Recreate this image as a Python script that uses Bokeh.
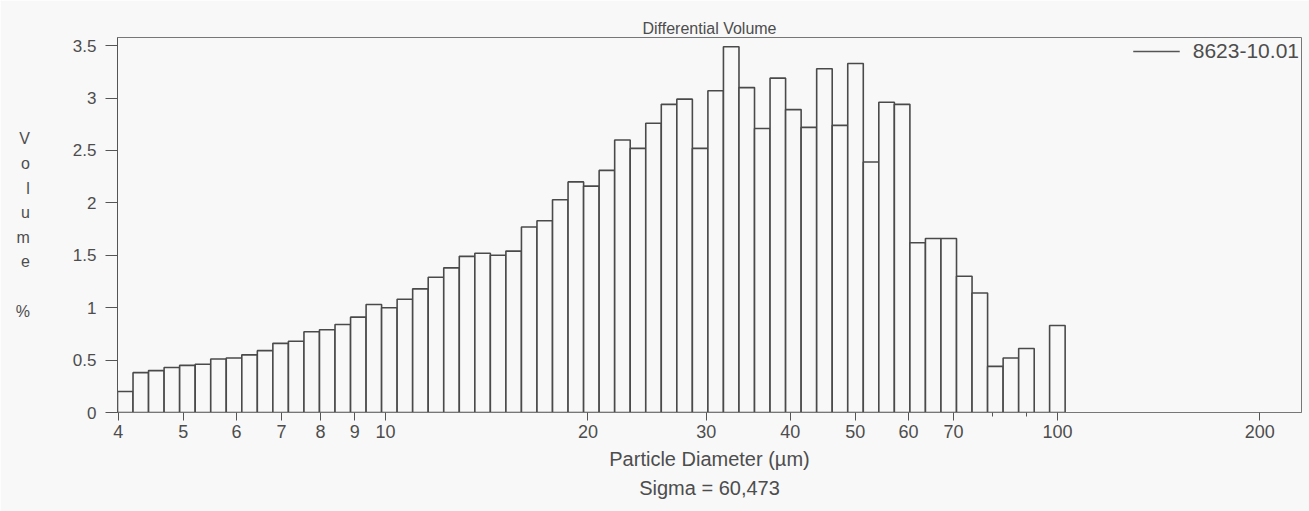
from bokeh.plotting import figure
from bokeh.models import ColumnDataSource, FixedTicker, Legend, LegendItem, Range1d, Title
from bokeh.embed import file_html
from bokeh.resources import INLINE

# ---- data ----
edges_um = [3.990, 4.208, 4.438, 4.681, 4.937, 5.207, 5.492, 5.792, 6.109, 6.443,
            6.795, 7.167, 7.559, 7.972, 8.408, 8.868, 9.353, 9.863, 10.402, 10.971,
            11.571, 12.204, 12.872, 13.576, 14.318, 15.101, 15.927, 16.798, 17.717, 18.686,
            19.708, 20.786, 21.922, 23.121, 24.386, 25.719, 27.126, 28.610, 30.174, 31.824,
            33.565, 35.400, 37.336, 39.378, 41.532, 43.803, 46.199, 48.725, 51.390, 54.200,
            57.165, 60.291, 63.588, 67.066, 70.733, 74.602, 78.682, 82.985, 87.523, 92.310,
            97.312, 102.634]
volume_pct = [0.20, 0.38, 0.40, 0.43, 0.45, 0.46, 0.51, 0.52, 0.55, 0.59,
              0.66, 0.68, 0.77, 0.79, 0.84, 0.91, 1.03, 1.00, 1.08, 1.18,
              1.29, 1.38, 1.49, 1.52, 1.50, 1.54, 1.77, 1.83, 2.03, 2.20,
              2.16, 2.31, 2.60, 2.52, 2.76, 2.94, 2.99, 2.52, 3.07, 3.49,
              3.10, 2.71, 3.19, 2.89, 2.72, 3.28, 2.74, 3.33, 2.39, 2.96,
              2.94, 1.62, 1.66, 1.66, 1.30, 1.14, 0.44, 0.52, 0.61, 0.00,
              0.83]
x_ticks = [4, 5, 6, 7, 8, 9, 10, 20, 30, 40, 50, 60, 70, 100, 200]
x_tick_labels = ["4", "5", "6", "7", "8", "9", "10", "20", "30", "40", "50", "60", "70", "100", "200"]
x_minor_ticks = [80, 90]
y_ticks = [0, 0.5, 1, 1.5, 2, 2.5, 3, 3.5]
y_tick_labels = ["0", "0.5", "1", "1.5", "2", "2.5", "3", "3.5"]
sample_name = "8623-10.01"
title_text = "Differential Volume"
x_label = "Particle Diameter (\u00b5m)"
y_label = "V\no\nl\nu\nm\ne\n\n%"
sigma_text = "Sigma = 60,473"

# ---- styling ----
FONT = "Liberation Sans"
TXT = "#4d4d4d"
LINE = "#4a4a4a"
BG = "#f8f8f8"

src = ColumnDataSource(dict(left=edges_um[:-1], right=edges_um[1:],
                            top=volume_pct, bottom=[0] * len(volume_pct)))

p = figure(width=1309, height=511, x_axis_type="log",
           x_range=Range1d(3.99, 230.7), y_range=Range1d(0, 3.578),
           output_backend="svg", toolbar_location=None,
           min_border_left=117, min_border_right=8, min_border_top=37, min_border_bottom=99)
p.background_fill_color = BG
p.border_fill_color = BG
p.outline_line_color = "#777777"
p.outline_line_width = 1
p.xgrid.visible = False
p.ygrid.visible = False

p.quad(left="left", right="right", top="top", bottom="bottom", source=src,
       fill_color=BG, line_color=LINE, line_width=1.6)

# legend with a line swatch (renderer carries no visible data)
lsrc = ColumnDataSource(dict(x=[float("nan")], y=[float("nan")]))
lr = p.line(x="x", y="y", source=lsrc, line_color="#555555", line_width=1.3)
legend = Legend(items=[LegendItem(label=sample_name, renderers=[lr])],
                location="top_right", border_line_alpha=0, background_fill_alpha=0,
                label_text_font=FONT, label_text_font_size="21px", label_text_color=TXT,
                glyph_width=47, label_standoff=13, padding=2, margin=0)
p.add_layout(legend)

# title
p.title.text = title_text
p.title.align = "center"
p.title.text_font = FONT
p.title.text_font_size = "16px"
p.title.text_font_style = "normal"
p.title.text_color = TXT
p.title.standoff = 2

# x axis
xa = p.xaxis[0]
xa.ticker = FixedTicker(ticks=x_ticks, minor_ticks=x_minor_ticks)
xa.major_label_overrides = {t: s for t, s in zip(x_ticks, x_tick_labels)}
xa.major_tick_in = 0
xa.major_tick_out = 8
xa.minor_tick_in = 0
xa.minor_tick_out = 4
xa.axis_line_color = "#777777"
xa.major_tick_line_color = "#555555"
xa.minor_tick_line_color = "#555555"
xa.major_label_text_font = FONT
xa.major_label_text_font_size = "18px"
xa.major_label_text_color = TXT
xa.major_label_standoff = 4
xa.axis_label = x_label
xa.axis_label_text_font = FONT
xa.axis_label_text_font_size = "20px"
xa.axis_label_text_font_style = "normal"
xa.axis_label_text_color = TXT
xa.axis_label_standoff = 7

# y axis
ya = p.yaxis[0]
ya.ticker = FixedTicker(ticks=y_ticks)
ya.major_label_overrides = {t: s for t, s in zip(y_ticks, y_tick_labels)}
ya.major_tick_in = 0
ya.major_tick_out = 12
ya.minor_tick_line_color = None
ya.axis_line_color = "#555555"
ya.major_tick_line_color = "#555555"
ya.major_label_text_font = FONT
ya.major_label_text_font_size = "17px"
ya.major_label_text_color = TXT
ya.major_label_standoff = 9
ya.axis_label = y_label
ya.axis_label_orientation = "horizontal"
ya.axis_label_text_font = FONT
ya.axis_label_text_font_size = "16px"
ya.axis_label_text_font_style = "normal"
ya.axis_label_text_color = TXT
ya.axis_label_text_line_height = 1.45
ya.axis_label_standoff = 40

# sigma line under the axis label
p.add_layout(Title(text=sigma_text, align="center", text_font=FONT, text_font_size="20px",
                   text_font_style="normal", text_color=TXT, standoff=4), "below")

open("out.html", "w").write(file_html(p, INLINE))
